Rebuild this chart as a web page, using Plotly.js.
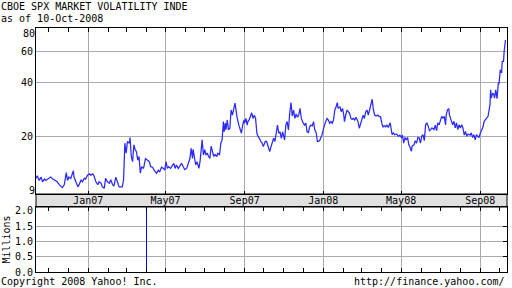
<!DOCTYPE html>
<html><head><meta charset="utf-8">
<script src="https://cdn.plot.ly/plotly-3.0.1.min.js"></script>
<style>html,body{margin:0;padding:0;background:#fff;}#chart{width:512px;height:288px;}</style>
</head><body><div id="chart"></div>
<script>
const chartTitle = 'CBOE SPX MARKET VOLATILITY INDE';
const asOfText = 'as of 10-Oct-2008';
const copyrightText = 'Copyright 2008 Yahoo! Inc.';
const sourceText = 'http://finance.yahoo.com/';

const vixDates = [
'2006-10-12','2006-10-14','2006-10-17','2006-10-20','2006-10-22','2006-10-25','2006-10-27','2006-11-01','2006-11-04','2006-11-07',
'2006-11-09','2006-11-12','2006-11-14','2006-11-17','2006-11-20','2006-11-22','2006-11-25','2006-11-28','2006-11-30','2006-12-02',
'2006-12-05','2006-12-09','2006-12-10','2006-12-13','2006-12-16','2006-12-18','2006-12-21','2006-12-23','2006-12-26','2006-12-28',
'2006-12-31','2007-01-03','2007-01-05','2007-01-08','2007-01-10','2007-01-13','2007-01-16','2007-01-18','2007-01-21','2007-01-23',
'2007-01-26','2007-01-28','2007-01-31','2007-02-03','2007-02-05','2007-02-08','2007-02-10','2007-02-13','2007-02-16','2007-02-18',
'2007-02-21','2007-02-23','2007-02-25','2007-02-27','2007-03-01','2007-03-03','2007-03-06','2007-03-07','2007-03-09','2007-03-11',
'2007-03-13','2007-03-15','2007-03-17','2007-03-19','2007-03-21','2007-03-23','2007-03-25','2007-03-28','2007-03-31','2007-04-03',
'2007-04-06','2007-04-08','2007-04-11','2007-04-13',
'2007-04-17','2007-04-20','2007-04-22','2007-04-25','2007-04-28','2007-04-30','2007-05-02','2007-05-04','2007-05-06','2007-05-09',
'2007-05-11','2007-05-14','2007-05-16','2007-05-18','2007-05-21','2007-05-23','2007-05-26','2007-05-29','2007-05-31','2007-06-03',
'2007-06-05','2007-06-08','2007-06-10','2007-06-12','2007-06-13','2007-06-15','2007-06-17','2007-06-19','2007-06-22','2007-06-24',
'2007-06-25','2007-06-27','2007-06-29','2007-07-01','2007-07-03','2007-07-05','2007-07-07','2007-07-09','2007-07-11','2007-07-13',
'2007-07-15','2007-07-17','2007-07-20','2007-07-21','2007-07-24','2007-07-26','2007-07-28','2007-07-30','2007-07-31','2007-08-02',
'2007-08-03','2007-08-05','2007-08-07','2007-08-09','2007-08-11','2007-08-13','2007-08-15','2007-08-17','2007-08-19','2007-08-20',
'2007-08-23','2007-08-25','2007-08-27','2007-08-29','2007-08-31','2007-09-01','2007-09-03','2007-09-05','2007-09-06','2007-09-08',
'2007-09-10','2007-09-12','2007-09-14','2007-09-16','2007-09-18','2007-09-20','2007-09-22','2007-09-24','2007-09-26','2007-09-28',
'2007-09-30','2007-10-03',
'2007-10-05','2007-10-08','2007-10-10','2007-10-12','2007-10-14','2007-10-16','2007-10-18','2007-10-20','2007-10-22','2007-10-24',
'2007-10-26','2007-10-28','2007-10-30','2007-11-02','2007-11-04','2007-11-06','2007-11-08','2007-11-10','2007-11-12','2007-11-14',
'2007-11-16','2007-11-18','2007-11-20','2007-11-22','2007-11-24','2007-11-26','2007-11-28','2007-12-01','2007-12-03','2007-12-05',
'2007-12-07','2007-12-09','2007-12-11','2007-12-13','2007-12-15','2007-12-17','2007-12-19','2007-12-21','2007-12-23','2007-12-25',
'2007-12-27','2007-12-30','2008-01-01','2008-01-03','2008-01-05','2008-01-07','2008-01-09','2008-01-11','2008-01-13','2008-01-15',
'2008-01-17','2008-01-19','2008-01-21','2008-01-23','2008-01-24','2008-01-27','2008-01-29','2008-01-31','2008-02-02','2008-02-03',
'2008-02-05','2008-02-07','2008-02-09','2008-02-11','2008-02-13','2008-02-15','2008-02-17','2008-02-19','2008-02-21','2008-02-24',
'2008-02-26','2008-02-28','2008-03-01','2008-03-03','2008-03-05','2008-03-07','2008-03-09','2008-03-11','2008-03-13','2008-03-15',
'2008-03-17','2008-03-19','2008-03-21','2008-03-23','2008-03-26','2008-03-28','2008-03-30','2008-04-01','2008-04-03','2008-04-05',
'2008-04-07','2008-04-09','2008-04-11',
'2008-04-14','2008-04-15','2008-04-17','2008-04-19','2008-04-21','2008-04-24','2008-04-27','2008-04-29','2008-05-02','2008-05-03',
'2008-05-05','2008-05-07','2008-05-09','2008-05-11','2008-05-13','2008-05-15','2008-05-17','2008-05-18','2008-05-21','2008-05-23',
'2008-05-25','2008-05-27','2008-05-29','2008-05-31','2008-06-02','2008-06-04','2008-06-06','2008-06-08','2008-06-10','2008-06-12',
'2008-06-14','2008-06-16','2008-06-18','2008-06-21','2008-06-23','2008-06-25','2008-06-27','2008-06-29','2008-07-01','2008-07-03',
'2008-07-05','2008-07-07','2008-07-09','2008-07-10','2008-07-12','2008-07-14','2008-07-15','2008-07-18','2008-07-20','2008-07-22',
'2008-07-24','2008-07-26','2008-07-28','2008-07-30','2008-08-01','2008-08-03','2008-08-05','2008-08-07','2008-08-09','2008-08-11',
'2008-08-13','2008-08-16','2008-08-18','2008-08-20','2008-08-22','2008-08-24','2008-08-26','2008-08-28','2008-08-30','2008-09-01',
'2008-09-03','2008-09-05','2008-09-07','2008-09-09','2008-09-11','2008-09-13','2008-09-16','2008-09-17','2008-09-18','2008-09-20',
'2008-09-22','2008-09-23','2008-09-25','2008-09-27','2008-09-29','2008-09-30','2008-10-02','2008-10-04','2008-10-05','2008-10-07',
'2008-10-08','2008-10-10'
];
const vixClose = [
11.6,12.0,11.3,11.8,11.1,11.5,11.3,11.6,11.8,11.5,
11.4,11.3,11.1,10.7,10.4,10.3,10.7,12.5,11.3,11.8,
11.6,12.8,11.8,10.9,10.4,10.7,11.4,11.1,11.6,11.5,
12.1,12.3,12.1,12.3,12.0,11.1,10.7,11.1,10.9,10.4,
10.2,11.6,11.1,10.9,11.4,10.7,10.5,11.8,10.7,10.4,
10.4,10.4,11.4,18.3,16.1,18.7,18.3,19.7,15.4,14.4,
17.9,16.8,16.4,14.7,15.4,12.4,13.5,13.2,15.0,14.7,
14.4,13.5,13.4,13.0,
12.4,12.9,12.6,13.4,13.2,12.9,14.4,13.2,13.5,13.2,
13.5,14.1,13.2,13.8,13.2,13.6,14.1,13.4,13.0,13.2,
14.1,15.0,17.1,15.0,16.9,14.7,13.8,14.4,13.2,14.7,
16.1,19.1,15.7,16.8,15.7,16.1,15.4,15.0,17.6,16.1,
15.4,15.8,15.4,16.1,15.7,18.3,19.1,24.2,21.2,23.7,
21.7,24.7,21.7,22.2,28.1,26.3,28.1,30.7,27.5,25.8,
23.1,22.2,20.8,23.1,24.7,23.7,25.2,23.1,24.2,24.7,
26.3,27.1,25.2,26.3,25.2,20.8,19.9,19.5,18.7,18.4,
17.5,18.7,
18.7,17.1,16.4,17.5,18.7,19.5,18.7,20.3,23.1,20.8,
21.2,19.5,21.2,19.1,23.1,24.2,21.7,26.9,30.9,26.0,
28.1,25.2,26.7,25.6,26.3,28.7,25.2,23.7,23.1,23.7,
21.2,21.0,22.6,23.1,22.9,24.2,21.7,21.0,18.7,18.7,
19.1,20.3,22.2,23.1,24.2,25.2,24.7,23.7,24.2,23.7,
24.7,28.1,29.3,30.9,28.7,29.3,27.5,28.7,26.3,24.2,
26.3,28.1,27.5,26.9,25.2,24.9,25.2,24.7,25.6,24.2,
22.2,23.7,25.2,26.3,25.2,27.5,28.1,26.3,28.1,30.0,
32.3,28.1,26.3,26.0,26.3,25.8,25.8,23.7,22.6,22.9,
22.6,23.1,22.4,
23.8,22.3,20.4,20.9,20.4,20.6,20.0,20.3,19.6,20.4,
18.3,19.7,19.1,19.7,17.9,17.3,16.5,17.6,17.9,18.9,
18.3,19.7,19.6,18.3,20.0,20.4,18.9,23.2,23.8,22.8,
21.5,21.8,22.3,21.8,23.1,21.5,23.8,23.2,24.8,25.9,
25.3,25.9,23.2,26.4,28.2,28.6,26.4,24.8,23.2,24.3,
22.3,23.8,21.8,23.2,22.3,23.2,22.3,20.3,21.3,20.0,
20.6,20.3,20.9,19.7,20.4,19.1,20.4,20.0,19.7,20.9,
21.8,22.5,24.3,24.8,25.6,25.9,30.1,36.5,32.8,35.0,
34.3,32.8,36.5,32.5,39.9,39.3,47.3,45.4,52.8,52.8,
60.1,69.5
];

const volDates = ['2007-04-02'];
const volMillions = [2.5];

const majorTickDates = ['2007-01-01','2007-05-01','2007-09-01','2008-01-01','2008-05-01','2008-09-01'];
const majorTickLabels = ['Jan07','May07','Sep07','Jan08','May08','Sep08'];
const monthTickDates = ['2006-11-01','2006-12-01','2007-01-01','2007-02-01','2007-03-01','2007-04-01','2007-05-01','2007-06-01',
  '2007-07-01','2007-08-01','2007-09-01','2007-10-01','2007-11-01','2007-12-01','2008-01-01','2008-02-01','2008-03-01',
  '2008-04-01','2008-05-01','2008-06-01','2008-07-01','2008-08-01','2008-09-01','2008-10-01'];
const priceGridValues = [20, 40, 60];
const priceGridLabels = ['20', '40', '60'];
const priceTopTick = [80], priceTopLabel = ['80'];
const priceBottomTick = [9.5], priceBottomLabel = ['9'];
const volTickValues = [0, 0.5, 1, 1.5, 2];
const volTickLabels = ['0.0', '0.5', '1.0', '1.5', '2.0'];
const volGridValues = [0.5, 1, 1.5];
const xRange = ['2006-10-12', '2008-10-12 10:00'];
const priceRange = [9.48, 81.2];
const volRange = [0, 2.12];

const FONT = {family: 'DejaVu Sans Mono', size: 10, color: '#000'};
const GRID = '#aaaaaa';
const W = 512, H = 288, ML = 36, MR = 5, MT = 28, MB = 16;
const plotH = H - MT - MB;
const mainBottomPx = 194, volTopPx = 207;
const mainDomain = [(H - MB - mainBottomPx) / plotH, 1];
const volDomain = [0, (H - MB - volTopPx) / plotH];
const logR = priceRange.map(Math.log10);

function helper(xa, ya) {
  return {type: 'scatter', mode: 'markers', x: [], y: [], xaxis: xa, yaxis: ya, hoverinfo: 'skip', showlegend: false};
}

const traces = [
  {type: 'scatter', mode: 'lines', x: vixDates, y: vixClose, xaxis: 'x', yaxis: 'y',
   line: {color: '#2a2aff', width: 1.25}, hoverinfo: 'skip'},
  {type: 'bar', x: volDates, y: volMillions, xaxis: 'x2', yaxis: 'y2',
   width: 86400000 * 1.6, marker: {color: '#0000ff', line: {width: 0}}, hoverinfo: 'skip'},
  helper('x3', 'y'), helper('x', 'y3'), helper('x', 'y4'), helper('x4', 'y2'), helper('x2', 'y5')
];

const baseX = {type: 'date', range: xRange, zeroline: false, fixedrange: true};
const layout = {
  width: W, height: H,
  margin: {l: ML, r: MR, t: MT, b: MB, pad: 0},
  paper_bgcolor: '#fff', plot_bgcolor: 'rgba(0,0,0,0)',
  showlegend: false, hovermode: false, bargap: 0,
  font: FONT,
  xaxis: Object.assign({}, baseX, {anchor: 'y', domain: [0, 1],
    tickmode: 'array', tickvals: majorTickDates, ticktext: majorTickLabels,
    showgrid: true, gridcolor: GRID, gridwidth: 1,
    ticks: 'inside', ticklen: 3, tickcolor: '#000', ticklabelstandoff: -3,
    showline: true, linecolor: '#000', linewidth: 1, mirror: true, tickfont: FONT}),
  xaxis3: Object.assign({}, baseX, {overlaying: 'x', anchor: 'y', side: 'top',
    tickmode: 'array', tickvals: monthTickDates, ticks: 'inside', ticklen: 4, tickcolor: '#000',
    showticklabels: false, showgrid: false, showline: false}),
  xaxis2: Object.assign({}, baseX, {anchor: 'y2', domain: [0, 1],
    tickmode: 'array', tickvals: majorTickDates, showgrid: true, gridcolor: GRID,
    ticks: '', showticklabels: false, showline: true, linecolor: '#000', linewidth: 1, mirror: true}),
  xaxis4: Object.assign({}, baseX, {overlaying: 'x2', anchor: 'y2', side: 'bottom',
    tickmode: 'array', tickvals: monthTickDates, ticks: 'inside', ticklen: 4, tickcolor: '#000',
    mirror: 'ticks', showticklabels: false, showgrid: false, showline: false}),
  yaxis: {domain: mainDomain, anchor: 'x', type: 'log', range: logR, fixedrange: true,
    tickmode: 'array', tickvals: priceGridValues, ticktext: priceGridLabels,
    showgrid: true, gridcolor: GRID, ticks: '', zeroline: false,
    showline: true, linecolor: '#000', linewidth: 1, mirror: true, tickfont: FONT},
  yaxis3: {overlaying: 'y', anchor: 'x', side: 'left', type: 'log', range: logR, fixedrange: true,
    tickmode: 'array', tickvals: priceTopTick, ticktext: priceTopLabel, ticklabelshift: 4,
    showgrid: false, ticks: '', showline: false, zeroline: false, tickfont: FONT},
  yaxis4: {overlaying: 'y', anchor: 'x', side: 'left', type: 'log', range: logR, fixedrange: true,
    tickmode: 'array', tickvals: priceBottomTick, ticktext: priceBottomLabel, ticklabelshift: -3,
    showgrid: false, ticks: '', showline: false, zeroline: false, tickfont: FONT},
  yaxis2: {domain: volDomain, anchor: 'x2', range: volRange, fixedrange: true,
    tickmode: 'array', tickvals: volTickValues, ticktext: volTickLabels,
    showgrid: false, ticks: '', zeroline: false,
    showline: true, linecolor: '#000', linewidth: 1, mirror: true, tickfont: FONT,
    title: {text: 'Millions', font: FONT, standoff: 2}},
  yaxis5: {overlaying: 'y2', anchor: 'x2', side: 'right', range: volRange, fixedrange: true,
    tickmode: 'array', tickvals: volGridValues, showgrid: true, gridcolor: GRID,
    ticks: 'inside', ticklen: 4, tickcolor: '#000', showticklabels: false, showline: false, zeroline: false},
  shapes: [{type: 'rect', xref: 'paper', yref: 'paper', x0: 0, x1: 1,
    y0: volDomain[1], y1: mainDomain[0], fillcolor: '#e0e0e0', line: {color: '#000', width: 1}, layer: 'below'}],
  annotations: [
    {text: chartTitle, xref: 'paper', yref: 'paper', x: -ML / (W - ML - MR), y: (H - MB - 7) / plotH,
     xanchor: 'left', yanchor: 'middle', showarrow: false, font: FONT, borderpad: 0},
    {text: asOfText, xref: 'paper', yref: 'paper', x: -ML / (W - ML - MR), y: (H - MB - 18.5) / plotH,
     xanchor: 'left', yanchor: 'middle', showarrow: false, font: FONT, borderpad: 0},
    {text: copyrightText, xref: 'paper', yref: 'paper', x: -ML / (W - ML - MR), y: (H - MB - 281.5) / plotH,
     xanchor: 'left', yanchor: 'middle', showarrow: false, font: FONT, borderpad: 0},
    {text: sourceText, xref: 'paper', yref: 'paper', x: (506 - ML) / (W - ML - MR), y: (H - MB - 281.5) / plotH,
     xanchor: 'right', yanchor: 'middle', showarrow: false, font: FONT, borderpad: 0}
  ]
};

Plotly.newPlot('chart', traces, layout, {staticPlot: true, displayModeBar: false});
</script>
</body></html>
